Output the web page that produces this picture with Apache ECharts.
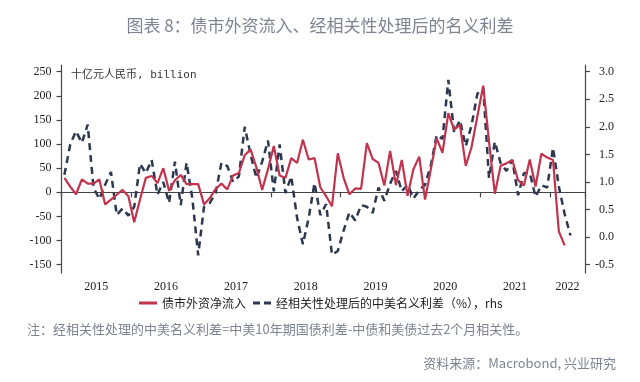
<!DOCTYPE html>
<html><head><meta charset="utf-8">
<script src="https://cdn.jsdelivr.net/npm/echarts@6/dist/echarts.min.js"></script>
<style>html,body{margin:0;padding:0;background:#fff}#c{width:640px;height:382px}</style>
</head><body><div id="c"></div>
<script>
const years = ['2015','2016','2017','2018','2019','2020','2021','2022'];
const months = [];
years.forEach(y => { for (let m = 1; m <= 12; m++) { if (y === '2022' && m > 6) break; months.push(y + '-' + String(m).padStart(2, '0')); } });

// 债市外资净流入 (十亿元人民币), monthly from 2015-01
const flowData = [30,12,-4,27,18,18,27,-25,-15,-5,
  5,-8,-62,-15,30,34,19,50,3,25,
  36,17,17,17,-25,-12,7,18,6,35,
  40,77,89,52,5,48,96,35,30,71,
  61,109,68,71,10,-8,-29,81,30,-4,
  8,7,102,69,61,14,86,15,67,-7,
  48,74,-15,48,112,82,164,130,140,55,
  94,158,221,105,-3,55,60,67,25,14,
  68,12,80,72,67,-81,-110];
// 经相关性处理后的中美名义利差 (%), rhs
const spreadData = [1.13,1.68,1.92,1.71,2.04,0.9,0.69,0.95,1.18,0.4,
  0.52,0.39,0.55,1.33,1.16,1.4,0.77,1.0,0.62,1.37,
  0.58,1.35,0.7,-0.33,0.55,0.62,0.8,1.35,1.29,1.0,
  1.1,2.0,1.5,1.07,1.37,1.75,0.83,1.68,0.8,1.1,
  0.35,-0.13,0.35,0.98,0.4,0.6,-0.32,-0.25,0.12,0.45,
  0.3,0.58,0.55,0.44,0.9,0.66,0.97,1.2,0.83,0.95,
  0.7,0.85,0.95,1.3,1.85,1.78,2.85,1.9,2.12,1.65,
  2.03,2.6,2.7,1.07,1.73,1.34,1.2,1.4,0.76,1.16,
  1.17,0.73,0.94,0.9,1.62,0.92,0.42,0.03];
const leftTicks = [-150,-100,-50,0,50,100,150,200,250];
const rightTicks = [-0.5,0,0.5,1.0,1.5,2.0,2.5,3.0];
const seriesNames = ['债市外资净流入', '经相关性处理后的中美名义利差（%），rhs'];

const serif = "'Liberation Serif', 'Times New Roman', serif";
const cjk = "'Noto Sans CJK SC', 'Noto Sans', sans-serif";
const axisColor = '#444';
const redColor = '#c2334d';
const navyColor = '#2d3850';

const chart = echarts.init(document.getElementById('c'), null, {renderer: 'canvas'});
chart.setOption({
  animation: false,
  backgroundColor: '#fff',
  title: [
    {text: '图表 8：债市外资流入、经相关性处理后的名义利差', left: 'center', top: 12,
     textStyle: {fontFamily: cjk, fontSize: 17, fontWeight: 'normal', color: '#7d8593'}},
    {text: '十亿元人民币, billion', left: 66, top: 65,
     textStyle: {fontFamily: "'DejaVu Sans Mono', 'Noto Sans CJK SC', monospace", fontSize: 11, fontWeight: 'normal', color: '#333'}},
    {text: '注：经相关性处理的中美名义利差=中美10年期国债利差-中债和美债过去2个月相关性。', left: 22, top: 318,
     textStyle: {fontFamily: cjk, fontSize: 13, fontWeight: 'normal', color: '#7d8593'}},
    {text: '资料来源：Macrobond, 兴业研究', right: 19, top: 352,
     textStyle: {fontFamily: cjk, fontSize: 13, fontWeight: 'normal', color: '#7d8593'}}
  ],
  legend: {
    left: 134, top: 292, itemWidth: 18, itemHeight: 3, itemGap: 7,
    data: [
      {name: seriesNames[0], icon: 'rect', itemStyle: {color: redColor}},
      {name: seriesNames[1], icon: 'path://M0,0h7v3h-7zM11,0h7v3h-7z', itemStyle: {color: navyColor}}
    ],
    textStyle: {fontFamily: cjk, fontSize: 12, color: '#222'}
  },
  grid: {left: 61.5, right: 55, top: 65, bottom: 109, containLabel: false},
  xAxis: {
    type: 'category', data: months, boundaryGap: true,
    axisLine: {lineStyle: {color: axisColor, width: 1.2}},
    axisTick: {show: true, inside: false, length: 5, lineStyle: {color: axisColor, width: 1.2},
      interval: (i) => i % 12 === 0},
    axisLabel: {interval: (i) => i % 12 === 6 || i === 87, margin: 8,
      formatter: (v) => '{a|' + v.slice(0, 4) + '}',
      rich: {a: {fontFamily: serif, fontSize: 12, color: '#222', padding: [0, 6, 0, 0]}}},
    splitLine: {show: false}
  },
  yAxis: [
    {type: 'value', min: -167.2, max: 263.9, position: 'left',
     axisLine: {show: true, lineStyle: {color: axisColor, width: 1.2}},
     axisTick: {show: true, length: 5, customValues: leftTicks, lineStyle: {color: axisColor, width: 1.2}},
     axisLabel: {customValues: leftTicks, margin: 10, fontFamily: serif, fontSize: 12, color: '#222'},
     splitLine: {show: false}},
    {type: 'value', min: -0.65, max: 3.12, position: 'right',
     axisLine: {show: true, lineStyle: {color: axisColor, width: 1.2}},
     axisTick: {show: true, length: 5, customValues: rightTicks, lineStyle: {color: axisColor, width: 1.2}},
     axisLabel: {customValues: rightTicks, margin: 29, align: 'right', fontFamily: serif, fontSize: 12, color: '#222',
       formatter: (v) => v.toFixed(1)},
     splitLine: {show: false}}
  ],
  series: [
    {name: seriesNames[1], type: 'line', yAxisIndex: 1, data: spreadData, symbol: 'none',
     lineStyle: {color: navyColor, width: 2.5, type: [7, 5]}, itemStyle: {color: navyColor}, z: 2},
    {name: seriesNames[0], type: 'line', yAxisIndex: 0, data: flowData, symbol: 'none',
     lineStyle: {color: redColor, width: 2.2}, itemStyle: {color: redColor}, z: 3}
  ]
});
</script></body></html>
